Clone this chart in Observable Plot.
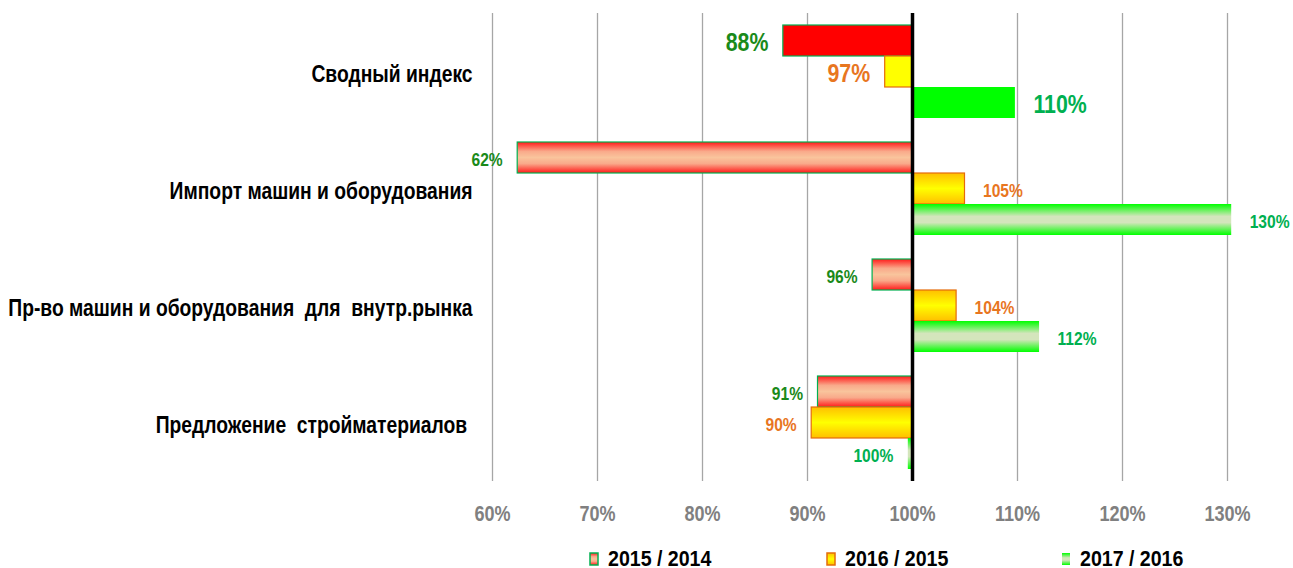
<!DOCTYPE html>
<html>
<head>
<meta charset="utf-8">
<script src="https://cdn.jsdelivr.net/npm/d3@7"></script>
<script src="https://cdn.jsdelivr.net/npm/@observablehq/plot@0.6"></script>
<style>
  body { margin: 0; background: white; }
  svg text { white-space: pre; }
  #legend { display: block; }
</style>
</head>
<body>
<svg width="0" height="0" style="position:absolute">
  <defs>
    <linearGradient id="gRed" x1="0" y1="0" x2="0" y2="1">
      <stop offset="0" stop-color="#ff1a1a"/>
      <stop offset="0.3" stop-color="#f9a98a"/>
      <stop offset="0.5" stop-color="#f9c49c"/>
      <stop offset="0.7" stop-color="#f9a98a"/>
      <stop offset="1" stop-color="#ff1a1a"/>
    </linearGradient>
    <linearGradient id="gYel" x1="0" y1="0" x2="0" y2="1">
      <stop offset="0" stop-color="#ffbf00"/>
      <stop offset="0.5" stop-color="#ffff00"/>
      <stop offset="1" stop-color="#ffbf00"/>
    </linearGradient>
    <linearGradient id="gGrn" x1="0" y1="0" x2="0" y2="1">
      <stop offset="0" stop-color="#00ff00"/>
      <stop offset="0.4" stop-color="#d4e5bc"/>
      <stop offset="0.6" stop-color="#d4e5bc"/>
      <stop offset="1" stop-color="#00ff00"/>
    </linearGradient>
  </defs>
</svg>
<div id="chart"></div>
<svg id="legend" width="1293" height="28"></svg>
<script>
const categories = ["Сводный индекс", "Импорт машин и оборудования", "Пр-во машин и оборудования  для  внутр.рынка", "Предложение  стройматериалов "];
const series = ["2015 / 2014", "2016 / 2015", "2017 / 2016"];
const values2015 = [87.7, 62.4, 96.2, 91.0];
const values2016 = [97.4, 105.0, 104.2, 90.4];
const values2017 = [109.8, 130.4, 112.1, 99.6];
const xTicks = [60, 70, 80, 90, 100, 110, 120, 130];

const FONT = '"Liberation Sans", Arial, sans-serif';
const seriesValues = [values2015, values2016, values2017];
const rows = categories.flatMap((c, i) => series.map((s, j) => ({category: c, series: s, si: j, value: seriesValues[j][i]})));

const gradFill = ["url(#gRed)", "url(#gYel)", "url(#gGrn)"];
const solidFill = ["#ff0000", "#ffff00", "#00ff00"];
const strokes = ["#00b050", "#e46c0a", "none"];
const labelColors = ["#1a8a1a", "#e8761f", "#00b050"];

const fillOf = d => d.category === categories[0] ? solidFill[d.si] : gradFill[d.si];
const sizeOf = d => d.category === categories[0] ? 26 : 19;
const labelOf = d => Math.round(d.value) + "%";

const chart = Plot.plot({
  width: 1293, height: 540,
  marginLeft: 492, marginRight: 66, marginTop: 12, marginBottom: 59,
  style: {fontFamily: FONT, background: "white", overflow: "visible"},
  x: {domain: [60, 130], axis: null, label: null},
  y: {domain: series, paddingInner: 0, paddingOuter: 0.37, axis: null},
  fy: {domain: categories, padding: 0, axis: null},
  color: {type: "identity"},
  marks: [
    Plot.gridX(xTicks, {stroke: "#a6a6a6", strokeOpacity: 1, strokeWidth: 1.3}),
    Plot.barX(rows, {fy: "category", y: "series", x1: 100, x2: "value", fill: fillOf, stroke: d => strokes[d.si], strokeWidth: 1.2}),
    Plot.ruleX([100], {stroke: "black", strokeWidth: 3.5}),
    Plot.text(rows, {filter: d => d.value < 100, fy: "category", y: "series", x: "value", text: labelOf, textAnchor: "end", dx: -15, dy: 2, fill: d => labelColors[d.si], fontSize: sizeOf, fontWeight: "bold"}),
    Plot.text(rows, {filter: d => d.value >= 100, fy: "category", y: "series", x: "value", text: labelOf, textAnchor: "start", dx: 18, dy: 2, fill: d => labelColors[d.si], fontSize: sizeOf, fontWeight: "bold"}),
    Plot.axisX({ticks: xTicks, tickFormat: d => d + "%", tickSize: 0, tickPadding: 24, fill: "#808080", fontSize: 22, fontWeight: "bold", label: null}),
    Plot.axisFy({anchor: "left", tickSize: 0, tickPadding: 20, fontSize: 23.5, fontWeight: "bold", fill: "black", label: null, dy: 2})
  ]
});
document.getElementById("chart").appendChild(chart);

// condense text horizontally (Arial Narrow look)
function condense(sel, k) {
  sel.each(function() {
    const L = this.getComputedTextLength();
    if (L > 0) {
      this.setAttribute("textLength", (L * k).toFixed(1));
      this.setAttribute("lengthAdjust", "spacingAndGlyphs");
    }
  });
}
condense(d3.select(chart).selectAll("text"), 0.82);

// legend
const legendX = [590, 827, 1062];
const swatchFill = ["url(#gRed)", "url(#gYel)", "url(#gGrn)"];
const lg = d3.select("#legend");
series.forEach((s, j) => {
  lg.append("rect")
    .attr("x", legendX[j]).attr("y", 13).attr("width", 8).attr("height", 12)
    .attr("fill", swatchFill[j])
    .attr("stroke", strokes[j]).attr("stroke-width", 1.5);
  lg.append("text")
    .attr("x", legendX[j] + 18).attr("y", 26)
    .attr("font-family", FONT).attr("font-weight", "bold").attr("font-size", 22)
    .attr("fill", "black")
    .text(s);
});
condense(lg.selectAll("text"), 0.89);
</script>
</body>
</html>
